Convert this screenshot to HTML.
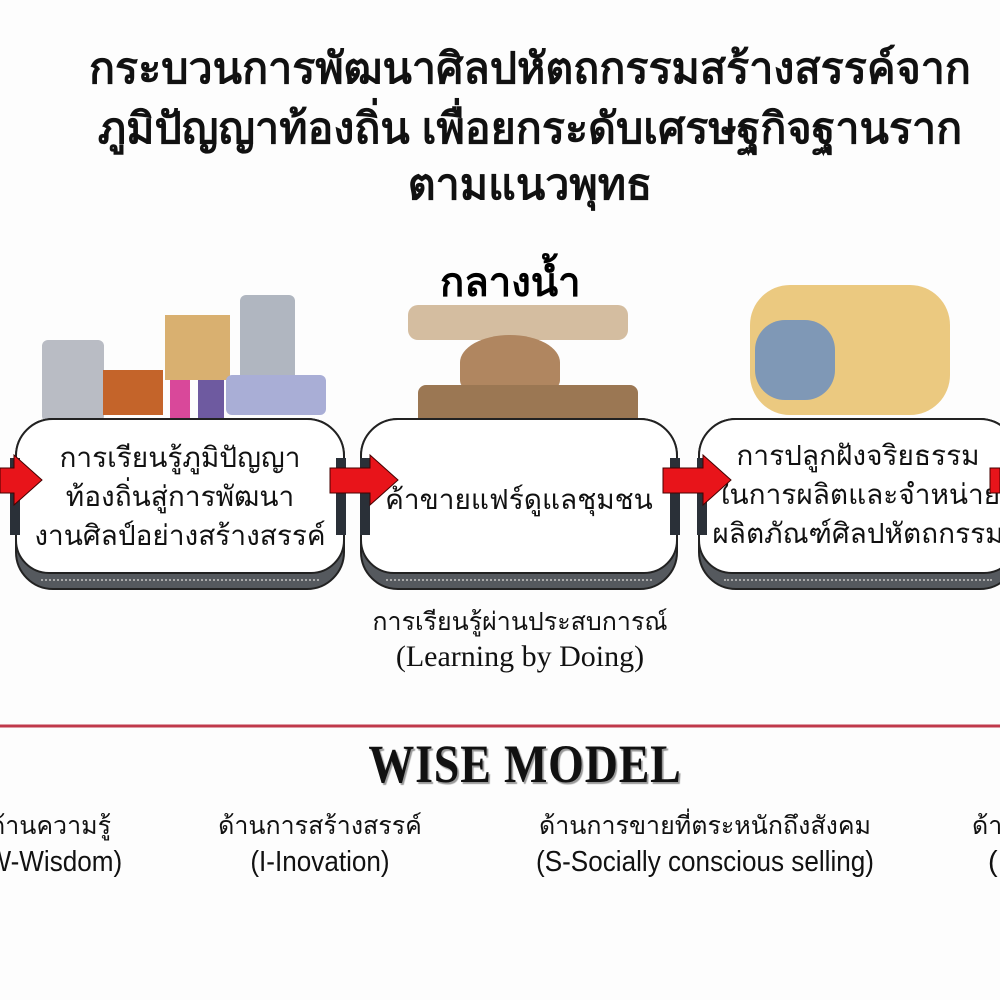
<!DOCTYPE html>
<html><head><meta charset="utf-8"><style>
body{margin:0;width:1000px;height:1000px;background:#fdfdfd;position:relative;overflow:hidden;font-family:"Liberation Sans","DejaVu Sans",sans-serif;}
.a{position:absolute;}
.t{position:absolute;left:0;width:1060px;text-align:center;font-weight:bold;font-size:43px;color:#111;}
.box{position:absolute;top:418px;height:172px;border:2px solid #222;border-radius:38px;background:#55595e;box-sizing:border-box;}
.box .in{position:absolute;left:-2px;right:-2px;top:-2px;height:156px;border:2px solid #222;border-radius:38px 38px 34px 34px;background:#fff;box-sizing:border-box;}
.box .dots{position:absolute;left:24px;right:24px;bottom:7px;border-top:2px dotted #aaa;}
.bt{position:absolute;width:100%;text-align:center;font-size:28px;line-height:39px;color:#111;}
.bar{position:absolute;top:458px;width:10px;height:77px;background:#2a3038;}
.bl{position:absolute;text-align:center;font-size:25px;color:#111;}
.en{font-size:29px;transform:scaleX(.9);}
</style></head><body>
<div class="t" style="top:34px">กระบวนการพัฒนาศิลปหัตถกรรมสร้างสรรค์จาก</div>
<div class="t" style="top:94px">ภูมิปัญญาท้องถิ่น เพื่อยกระดับเศรษฐกิจฐานราก</div>
<div class="t" style="top:150px">ตามแนวพุทธ</div>
<div class="a" style="left:440px;top:250px;font-size:40px;font-weight:bold">กลางน้ำ</div>

<div class="a" style="left:42px;top:340px;width:62px;height:82px;background:#b9bcc4;border-radius:6px"></div>
<div class="a" style="left:103px;top:370px;width:60px;height:45px;background:#c4642a"></div>
<div class="a" style="left:165px;top:315px;width:65px;height:65px;background:#d9b070"></div>
<div class="a" style="left:170px;top:380px;width:20px;height:60px;background:#d9489a"></div>
<div class="a" style="left:198px;top:380px;width:26px;height:50px;background:#6e5aa0"></div>
<div class="a" style="left:240px;top:295px;width:55px;height:90px;background:#b0b6c0;border-radius:6px"></div>
<div class="a" style="left:226px;top:375px;width:100px;height:40px;background:#a9aed6;border-radius:6px"></div>
<div class="a" style="left:408px;top:305px;width:220px;height:35px;background:#c9ad88;border-radius:10px;opacity:.8"></div>
<div class="a" style="left:460px;top:335px;width:100px;height:55px;background:#b08660;border-radius:50% 50% 10px 10px"></div>
<div class="a" style="left:418px;top:385px;width:220px;height:55px;background:#9b7753;border-radius:8px"></div>
<div class="a" style="left:750px;top:285px;width:200px;height:130px;background:#e7c06a;border-radius:40px;opacity:.85"></div>
<div class="a" style="left:755px;top:320px;width:80px;height:80px;background:#7f98b6;border-radius:30px"></div>

<div class="box" style="left:15px;width:330px"><div class="in"></div><div class="dots"></div></div>
<div class="box" style="left:360px;width:318px"><div class="in"></div><div class="dots"></div></div>
<div class="box" style="left:698px;width:320px"><div class="in"></div><div class="dots"></div></div>

<div class="bt" style="left:15px;width:330px;top:438px">การเรียนรู้ภูมิปัญญา<br>ท้องถิ่นสู่การพัฒนา<br>งานศิลป์อย่างสร้างสรรค์</div>
<div class="bt" style="left:360px;width:318px;top:480px">ค้าขายแฟร์ดูแลชุมชน</div>
<div class="bt" style="left:698px;width:320px;top:436px">การปลูกฝังจริยธรรม<br>ในการผลิตและจำหน่าย<br>ผลิตภัณฑ์ศิลปหัตถกรรม</div>

<div class="bar" style="left:10px"></div>
<div class="bar" style="left:336px"></div>
<div class="bar" style="left:360px"></div>
<div class="bar" style="left:670px"></div>
<div class="bar" style="left:697px"></div>

<svg class="a" style="left:0;top:0" width="1000" height="1000">
<g fill="#e8141a" stroke="#400" stroke-width="1">
<polygon points="0,468 14,468 14,455 42,480 14,505 14,493 0,493"/>
<polygon points="330,468 370,468 370,455 398,480 370,505 370,493 330,493"/>
<polygon points="663,468 703,468 703,455 731,480 703,505 703,493 663,493"/>
<polygon points="990,468 1000,468 1000,493 990,493"/>
</g>
<line x1="0" y1="726" x2="1000" y2="726" stroke="#c0394b" stroke-width="3"/>
</svg>

<div class="bl" style="left:330px;width:380px;top:602px;font-size:25px">การเรียนรู้ผ่านประสบการณ์</div>
<div class="bl" style="left:330px;width:380px;top:640px;font-family:'Liberation Serif',serif;font-size:30px">(Learning by Doing)</div>

<div class="a" style="left:0;width:1050px;top:733px;text-align:center;font-family:'Liberation Serif',serif;font-size:54px;font-weight:bold;color:#111;text-shadow:2px 2px 1px #999;letter-spacing:1px;transform:scaleX(.85)">WISE MODEL</div>

<div class="bl" style="left:-50px;width:200px;top:806px">ด้านความรู้</div>
<div class="bl en" style="left:-50px;width:200px;top:846px">(W-Wisdom)</div>
<div class="bl" style="left:180px;width:280px;top:806px">ด้านการสร้างสรรค์</div>
<div class="bl en" style="left:180px;width:280px;top:846px">(I-Inovation)</div>
<div class="bl" style="left:480px;width:450px;top:806px">ด้านการขายที่ตระหนักถึงสังคม</div>
<div class="bl en" style="left:480px;width:450px;top:846px">(S-Socially conscious selling)</div>
<div class="bl" style="left:972px;width:200px;top:806px;text-align:left">ด้าน</div>
<div class="bl" style="left:988px;width:200px;top:846px;text-align:left;font-size:29px">(</div>
</body></html>
